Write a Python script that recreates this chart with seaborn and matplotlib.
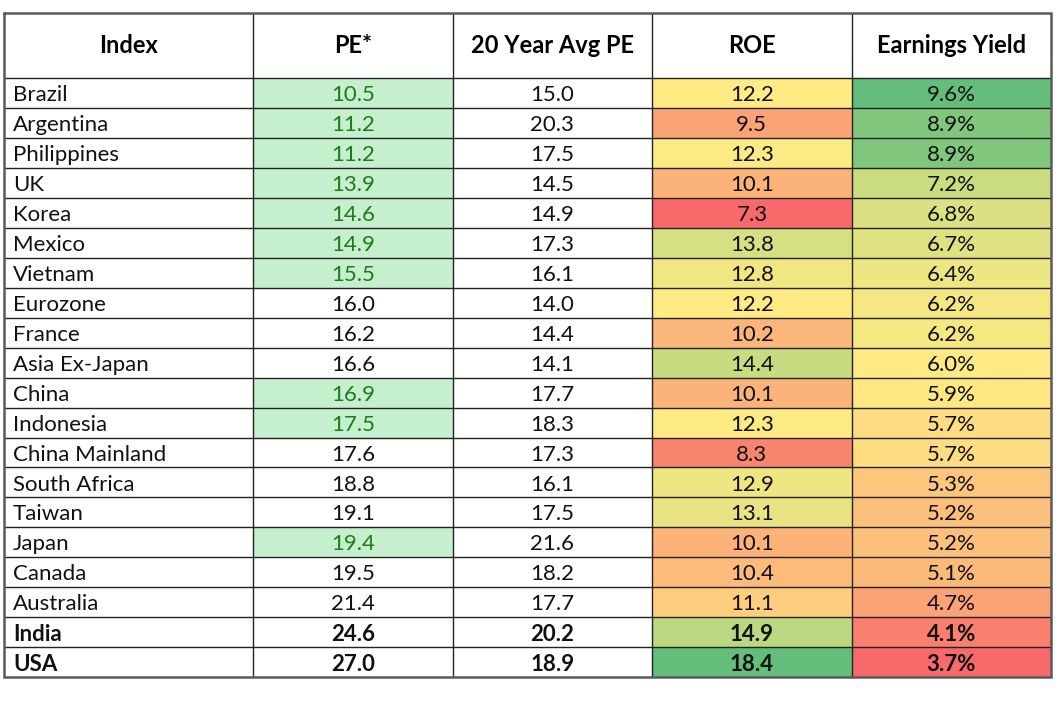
import numpy as np
import pandas as pd
import matplotlib.pyplot as plt
import seaborn as sns
from matplotlib.colors import LinearSegmentedColormap, ListedColormap, TwoSlopeNorm

sns.set_style("white")
plt.rcParams['font.family'] = ['Lato', 'DejaVu Sans']

# Table data
names = ['Brazil', 'Argentina', 'Philippines', 'UK', 'Korea', 'Mexico', 'Vietnam',
         'Eurozone', 'France', 'Asia Ex-Japan', 'China', 'Indonesia', 'China Mainland',
         'South Africa', 'Taiwan', 'Japan', 'Canada', 'Australia', 'India', 'USA']
pe = [10.5, 11.2, 11.2, 13.9, 14.6, 14.9, 15.5, 16.0, 16.2, 16.6,
      16.9, 17.5, 17.6, 18.8, 19.1, 19.4, 19.5, 21.4, 24.6, 27.0]
avg_pe = [15.0, 20.3, 17.5, 14.5, 14.9, 17.3, 16.1, 14.0, 14.4, 14.1,
          17.7, 18.3, 17.3, 16.1, 17.5, 21.6, 18.2, 17.7, 20.2, 18.9]
roe = [12.2, 9.5, 12.3, 10.1, 7.3, 13.8, 12.8, 12.2, 10.2, 14.4,
       10.1, 12.3, 8.3, 12.9, 13.1, 10.1, 10.4, 11.1, 14.9, 18.4]
earn_yield = [9.6, 8.9, 8.9, 7.2, 6.8, 6.7, 6.4, 6.2, 6.2, 6.0,
              5.9, 5.7, 5.7, 5.3, 5.2, 5.2, 5.1, 4.7, 4.1, 3.7]
headers = ['Index', 'PE*', '20 Year Avg PE', 'ROE', 'Earnings Yield']
bold_rows = ['India', 'USA']

df = pd.DataFrame({'PE*': pe, 'Avg': avg_pe, 'ROE': roe, 'EY': earn_yield}, index=names)
cheap = (df['PE*'] < df['Avg']).astype(float)

excel_scale = LinearSegmentedColormap.from_list('excel', ['#F8696B', '#FFEB84', '#63BE7B'])
green_fill = ListedColormap(['#FFFFFF', '#C6EFCE'])
white = ListedColormap(['#FFFFFF'])

n_rows = len(names)
header_h = 2.18
name_w = 1.25  # first column is wider than the numeric ones

fig = plt.figure(figsize=(10.62, 7.13), dpi=100)
ax = fig.add_axes([4 / 1062, 1 - 677 / 713, 1047 / 1062, 664 / 713])

cols = list(df.columns)


def only(col):
    m = np.ones(df.shape, dtype=bool)
    m[:, cols.index(col)] = False
    return m


# PE highlight where PE is below its 20 year average
pe_flag = df.copy()
pe_flag['PE*'] = cheap
sns.heatmap(pe_flag, mask=only('PE*'), cmap=green_fill, vmin=0, vmax=1, cbar=False, ax=ax)
sns.heatmap(df * 0, mask=only('Avg'), cmap=white, cbar=False, ax=ax)
# 3-colour scales
sns.heatmap(df, mask=only('ROE'), cmap=excel_scale, cbar=False, ax=ax,
            norm=TwoSlopeNorm(vmin=min(roe), vcenter=np.median(roe), vmax=max(roe)))
sns.heatmap(df, mask=only('EY'), cmap=excel_scale, cbar=False, ax=ax,
            norm=TwoSlopeNorm(vmin=min(earn_yield), vcenter=np.median(earn_yield),
                              vmax=max(earn_yield)))

ax.set_xlim(-name_w, 4)
ax.set_ylim(n_rows, -header_h)
ax.set_axis_off()

# grid lines
ax.hlines(range(0, n_rows), -name_w, 4, color='#222222', lw=1.0)
ax.vlines(range(0, 4), -header_h, n_rows, color='#222222', lw=1.0)
ax.plot([-name_w, 4, 4, -name_w, -name_w], [-header_h, -header_h, n_rows, n_rows, -header_h],
        color='#5a5a5a', lw=1.8, solid_joinstyle='miter', clip_on=False)

# header
header_x = [-name_w / 2, 0.5, 1.5, 2.5, 3.5]
for x, h in zip(header_x, headers):
    ax.text(x, -header_h / 2, h, ha='center', va='center',
            fontsize=17, fontweight='bold', color='black')

# body text
fs = 16
txt = '#111111'
for i, name in enumerate(names):
    weight = 'bold' if name in bold_rows else 'normal'
    y = i + 0.57
    ax.text(-name_w + 0.045, y, name, ha='left', va='center', fontsize=fs,
            fontweight=weight, color=txt)
    pe_col = '#1E7A1E' if cheap.iloc[i] else txt
    ax.text(0.5, y, f'{pe[i]:.1f}', ha='center', va='center', fontsize=fs,
            fontweight=weight, color=pe_col)
    ax.text(1.5, y, f'{avg_pe[i]:.1f}', ha='center', va='center', fontsize=fs,
            fontweight=weight, color=txt)
    ax.text(2.5, y, f'{roe[i]:.1f}', ha='center', va='center', fontsize=fs,
            fontweight=weight, color=txt)
    ax.text(3.5, y, f'{earn_yield[i]:.1f}%', ha='center', va='center', fontsize=fs,
            fontweight=weight, color=txt)

fig.savefig('out.png', dpi=100, facecolor='white')
